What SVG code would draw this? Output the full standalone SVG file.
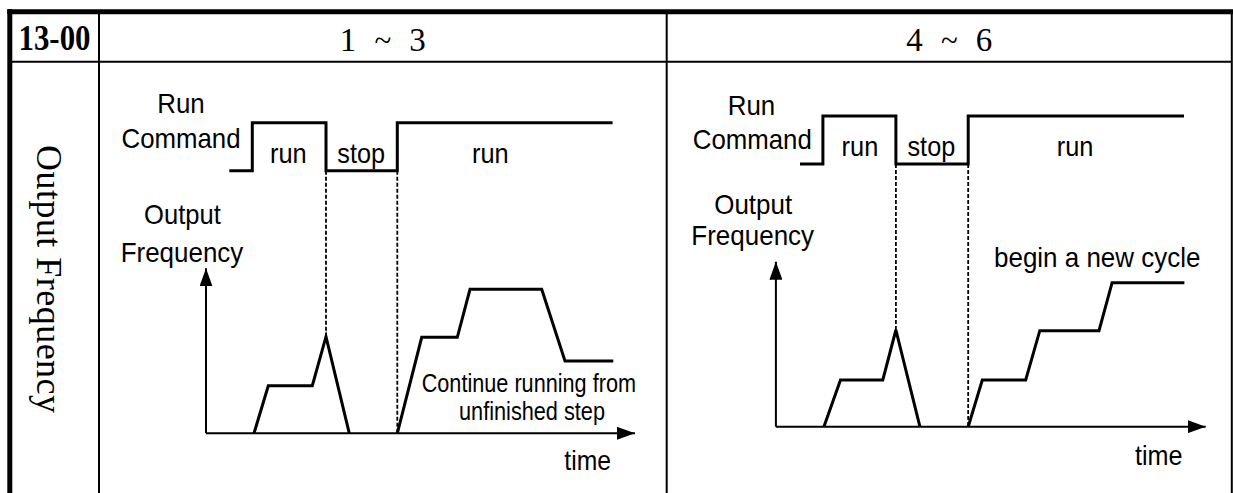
<svg xmlns="http://www.w3.org/2000/svg" width="1233" height="493" viewBox="0 0 1233 493">
<style>
.bg{fill:#ffffff}
.grid{stroke:#000;stroke-width:2;fill:none}
.thick{stroke:#000;stroke-width:5;fill:none}
.sig{stroke:#000;stroke-width:3;fill:none;stroke-linejoin:miter}
.axis{stroke:#000;stroke-width:2;fill:none}
.dash{stroke:#000;stroke-width:1.8;fill:none;stroke-dasharray:4 2}
.lbl{font-family:"Liberation Sans",Arial,sans-serif;font-size:28.5px;fill:#000}
.sm{font-family:"Liberation Sans",Arial,sans-serif;font-size:25px;fill:#000}
.hd{font-family:"Liberation Serif",serif;font-size:33px;fill:#000}
.tl{font-size:31px}
.hdb{font-family:"Liberation Serif",serif;font-size:35px;font-weight:bold;fill:#000}
.vt{font-family:"Liberation Serif",serif;font-size:36px;fill:#000}
</style>
<defs>
<marker id="arr" viewBox="0 0 18 13" refX="18" refY="6.5" markerWidth="18" markerHeight="13" markerUnits="userSpaceOnUse" orient="auto">
<path d="M0,0 L18,6.5 L0,13 Z" fill="#000"/>
</marker>
</defs>
<rect class="bg" x="0" y="0" width="1233" height="493"/>
<g id="table">
<line class="thick" x1="7.3" y1="11.7" x2="1233" y2="11.7"/>
<line class="thick" x1="9.8" y1="9.3" x2="9.8" y2="493"/>
<line class="grid" x1="99" y1="12" x2="99" y2="493"/>
<line class="grid" x1="666.7" y1="12" x2="666.7" y2="493"/>
<line class="grid" x1="1231.8" y1="12" x2="1231.8" y2="493"/>
<line class="grid" x1="10" y1="61.7" x2="1232" y2="61.7"/>
</g>
<g id="header">
<text class="hdb" x="18.5" y="50" textLength="72" lengthAdjust="spacingAndGlyphs">13-00</text>
<text class="hd" x="382.8" y="51" text-anchor="middle" textLength="86" lengthAdjust="spacing" xml:space="preserve">1 <tspan class="tl">~</tspan> 3</text>
<text class="hd" x="949.3" y="51" text-anchor="middle" textLength="86" lengthAdjust="spacing" xml:space="preserve">4 <tspan class="tl">~</tspan> 6</text>
<text class="vt" transform="translate(37,145) rotate(90)" x="0" y="0" textLength="268" lengthAdjust="spacing">Output Frequency</text>
</g>
<g id="panel-1-3">
<text class="lbl" x="181" y="113" text-anchor="middle" textLength="47.5" lengthAdjust="spacingAndGlyphs">Run</text>
<text class="lbl" x="181" y="148.3" text-anchor="middle" textLength="119" lengthAdjust="spacingAndGlyphs">Command</text>
<text class="lbl" x="270" y="162.5" textLength="36.7" lengthAdjust="spacingAndGlyphs">run</text>
<text class="lbl" x="337.3" y="162.5" textLength="47.7" lengthAdjust="spacingAndGlyphs">stop</text>
<text class="lbl" x="472" y="162.5" textLength="36.7" lengthAdjust="spacingAndGlyphs">run</text>
<text class="lbl" x="182.4" y="224" text-anchor="middle" textLength="76.7" lengthAdjust="spacingAndGlyphs">Output</text>
<text class="lbl" x="182" y="261.7" text-anchor="middle" textLength="122.7" lengthAdjust="spacingAndGlyphs">Frequency</text>
<text class="sm" x="421.7" y="391.7" textLength="214.3" lengthAdjust="spacingAndGlyphs">Continue running from</text>
<text class="sm" x="459" y="420" textLength="146" lengthAdjust="spacingAndGlyphs">unfinished step</text>
<text class="lbl" x="564.3" y="470" textLength="46.7" lengthAdjust="spacingAndGlyphs">time</text>
</g>
<g id="panel-4-6">
<text class="lbl" x="751.5" y="115" text-anchor="middle" textLength="47.5" lengthAdjust="spacingAndGlyphs">Run</text>
<text class="lbl" x="752.3" y="149.3" text-anchor="middle" textLength="119" lengthAdjust="spacingAndGlyphs">Command</text>
<text class="lbl" x="841.6" y="156" textLength="36.7" lengthAdjust="spacingAndGlyphs">run</text>
<text class="lbl" x="907.5" y="156" textLength="47.7" lengthAdjust="spacingAndGlyphs">stop</text>
<text class="lbl" x="1056.7" y="156" textLength="36.7" lengthAdjust="spacingAndGlyphs">run</text>
<text class="lbl" x="753.2" y="214" text-anchor="middle" textLength="78" lengthAdjust="spacingAndGlyphs">Output</text>
<text class="lbl" x="752.7" y="245" text-anchor="middle" textLength="122.7" lengthAdjust="spacingAndGlyphs">Frequency</text>
<text class="lbl" x="994" y="267" textLength="206.4" lengthAdjust="spacingAndGlyphs">begin a new cycle</text>
<text class="lbl" x="1135" y="465" textLength="47.6" lengthAdjust="spacingAndGlyphs">time</text>
</g>
<g id="connectors">
<polyline class="sig" points="229.3,170.7 252.3,170.7 252.3,122.7 326,122.7 326,170.7 397.3,170.7 397.3,122.7 612.6,122.7"/>
<line class="dash" x1="326" y1="170.7" x2="326" y2="336.7"/>
<line class="dash" x1="397.3" y1="170.7" x2="397.3" y2="433.3"/>
<line class="axis" x1="206" y1="433.3" x2="206" y2="268.3" marker-end="url(#arr)"/>
<line class="axis" x1="206" y1="433.3" x2="635" y2="433.3" marker-end="url(#arr)"/>
<polyline class="sig" points="254,433.3 268.3,385.7 312.3,385.7 326,336.7 349.3,433.3"/>
<polyline class="sig" points="397.3,433.3 421.7,337.3 457.3,337.3 470,289.3 541.7,289.3 565,361 613.3,361"/>
<polyline class="sig" points="800,164 822.9,164 822.9,116 895.9,116 895.9,164 968.2,164 968.2,116 1184,116"/>
<line class="dash" x1="895.9" y1="164" x2="895.9" y2="330"/>
<line class="dash" x1="968.2" y1="164" x2="968.2" y2="426.7"/>
<line class="axis" x1="775.9" y1="426.7" x2="775.9" y2="261.7" marker-end="url(#arr)"/>
<line class="axis" x1="775.9" y1="426.7" x2="1205.7" y2="426.7" marker-end="url(#arr)"/>
<polyline class="sig" points="823.9,426.7 840.5,380 882.8,380 895.9,330 919.9,426.7"/>
<polyline class="sig" points="968.2,426.7 982.3,380 1025.7,380 1039.8,330.7 1099,330.7 1112.1,282.7 1184.4,282.7"/>
</g>
</svg>
